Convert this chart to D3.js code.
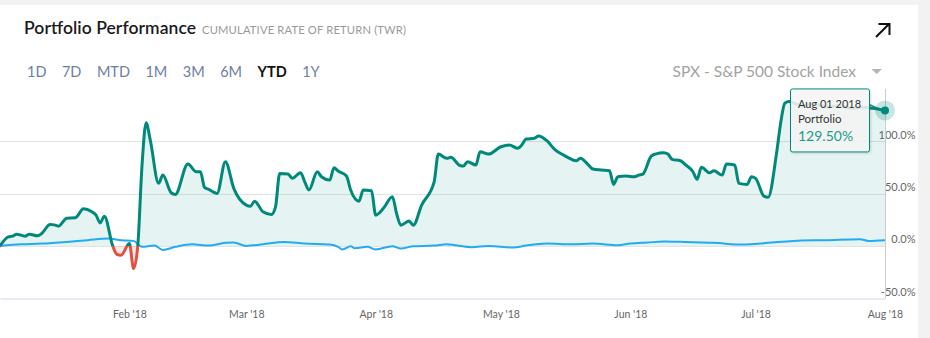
<!DOCTYPE html>
<html>
<head>
<meta charset="utf-8">
<script src="https://cdn.jsdelivr.net/npm/d3@7"></script>
<style>
  html, body { margin: 0; padding: 0; background: #f2f2f2; }
  svg { display: block; font-family: Lato, "Noto Sans", sans-serif; }
</style>
</head>
<body>
<svg id="chart" width="930" height="338"></svg>
<script>
// ---- chart data -------------------------------------------------------
const rangeButtons = ["1D", "7D", "MTD", "1M", "3M", "6M", "YTD", "1Y"];
const activeRange = "YTD";
const benchmarkName = "SPX - S&P 500 Stock Index";
const xTickDates = ["2018-02-01", "2018-03-01", "2018-04-01", "2018-05-01", "2018-06-01", "2018-07-01", "2018-08-01"];
const xTickLabels = ["Feb '18", "Mar '18", "Apr '18", "May '18", "Jun '18", "Jul '18", "Aug '18"];
const yTickValues = [-50, 0, 50, 100];
const yTickLabels = ["-50.0%", "0.0%", "50.0%", "100.0%"];

const portfolioDates = [
  "2018-01-01","2018-01-03","2018-01-04","2018-01-05","2018-01-07","2018-01-08","2018-01-10","2018-01-11",
  "2018-01-13","2018-01-14","2018-01-15","2018-01-17","2018-01-19","2018-01-21","2018-01-23","2018-01-24",
  "2018-01-25","2018-01-26","2018-01-28","2018-01-29","2018-01-30","2018-02-01","2018-02-02","2018-02-03",
  "2018-02-04","2018-02-05","2018-02-06","2018-02-08","2018-02-09","2018-02-11","2018-02-12","2018-02-15",
  "2018-02-17","2018-02-18","2018-02-19","2018-02-20","2018-02-22","2018-02-24","2018-02-26","2018-03-01",
  "2018-03-02","2018-03-03","2018-03-05","2018-03-07","2018-03-08","2018-03-09","2018-03-11","2018-03-12",
  "2018-03-14","2018-03-15","2018-03-16","2018-03-18","2018-03-19","2018-03-21","2018-03-22","2018-03-23",
  "2018-03-25","2018-03-26","2018-03-28","2018-03-29","2018-03-31","2018-04-01","2018-04-02","2018-04-03",
  "2018-04-05","2018-04-06","2018-04-07","2018-04-09","2018-04-10","2018-04-12","2018-04-15","2018-04-16",
  "2018-04-18","2018-04-19","2018-04-21","2018-04-22","2018-04-23","2018-04-25","2018-04-26","2018-04-28",
  "2018-05-01","2018-05-03","2018-05-05","2018-05-06","2018-05-07","2018-05-09","2018-05-10","2018-05-12",
  "2018-05-14","2018-05-16","2018-05-17","2018-05-19","2018-05-20","2018-05-22","2018-05-23","2018-05-25",
  "2018-05-27","2018-05-28","2018-05-29","2018-05-31","2018-06-02","2018-06-03","2018-06-04","2018-06-06",
  "2018-06-07","2018-06-09","2018-06-10","2018-06-11","2018-06-13","2018-06-14","2018-06-16","2018-06-17",
  "2018-06-18","2018-06-20","2018-06-21","2018-06-23","2018-06-24","2018-06-26","2018-06-27","2018-06-29",
  "2018-06-30","2018-07-01","2018-07-03","2018-07-04","2018-07-06","2018-07-07","2018-07-08","2018-07-09",
  "2018-07-12","2018-07-15","2018-07-18","2018-07-21","2018-07-24","2018-07-27","2018-07-29","2018-08-01"
];
const portfolioValues = [
  0, 8.6, 9.3, 11.2, 9.3, 11.2, 9.6, 11.9,
  20.5, 20.1, 18.9, 26.5, 26.8, 35.4, 32.6, 29.4,
  22.0, 28.4, 0, -8.0, -8.9, 2.2, -21.7, 0,
  75.7, 117.8, 101.2, 59.8, 67.7, 50.8, 49.2, 78.3,
  70.9, 70.9, 55.9, 54.0, 50.2, 80.5, 55.0, 39.0,
  38.0, 42.8, 32.6, 30.0, 37.4, 69.3, 68.7, 64.6,
  69.9, 61.3, 53.4, 70.9, 66.1, 62.9, 74.7, 71.6,
  66.8, 53.4, 42.8, 53.4, 52.7, 29.4, 32.0, 36.8,
  47.0, 31.0, 19.8, 23.7, 19.8, 39.0, 61.3, 87.8,
  83.7, 84.7, 77.3, 76.3, 80.5, 77.3, 90.0, 87.8,
  94.8, 96.5, 93.3, 96.5, 102.2, 102.9, 105.1, 100.6,
  91.7, 86.9, 84.7, 81.4, 83.7, 77.3, 73.5, 72.5,
  71.8, 58.8, 66.1, 66.8, 66.1, 67.7, 68.7, 85.9,
  87.8, 89.1, 87.8, 82.8, 81.4, 78.3, 70.9, 63.6,
  75.1, 69.9, 71.8, 67.7, 78.3, 77.3, 59.8, 58.8,
  66.1, 64.6, 47.6, 46.4, 88.0, 117.3, 136.4, 138.0,
  134.0, 135.5, 133.0, 134.0, 131.5, 132.5, 131.6, 129.5
];

const benchmarkDates = [
  "2018-01-01","2018-01-06","2018-01-11","2018-01-17","2018-01-22","2018-01-27","2018-01-30","2018-02-02",
  "2018-02-04","2018-02-07","2018-02-09","2018-02-12","2018-02-16","2018-02-20","2018-02-24","2018-02-26",
  "2018-03-01","2018-03-05","2018-03-10","2018-03-15","2018-03-21","2018-03-23","2018-03-24","2018-03-26",
  "2018-03-27","2018-03-30","2018-04-01","2018-04-05","2018-04-07","2018-04-10","2018-04-15","2018-04-18",
  "2018-04-20","2018-04-24","2018-04-28","2018-05-04","2018-05-07","2018-05-12","2018-05-18","2018-05-23",
  "2018-05-29","2018-06-01","2018-06-05","2018-06-09","2018-06-14","2018-06-21","2018-06-28","2018-07-04",
  "2018-07-10","2018-07-18","2018-07-26","2018-07-28","2018-08-01"
];
const benchmarkValues = [
  0, 1.6, 2.2, 3.8, 5.5, 7.0, 5.5, 4.8,
  -0.9, 0.3, -3.8, -0.9, 1.6, 0.3, 2.9, 3.2,
  0, 1.6, 3.8, 2.2, 1.3, -0.9, -3.4, -0.3,
  -2.2, -0.9, -3.4, -0.3, -2.5, -0.3, 0.3, 1.6,
  0.7, -1.2, 0, -1.6, 0.3, 2.2, 1.6, 2.2,
  0.7, 2.2, 3.2, 4.2, 3.8, 2.9, 1.3, 2.9,
  4.8, 5.5, 6.4, 4.8, 5.5
];

const tooltipDate = "Aug 01 2018";
const tooltipSeries = "Portfolio";

// ---- setup ------------------------------------------------------------
const parse = d3.timeParse("%Y-%m-%d");
const portfolio = portfolioDates.map((d, i) => ({ date: parse(d), value: portfolioValues[i] }));
const benchmark = benchmarkDates.map((d, i) => ({ date: parse(d), value: benchmarkValues[i] }));

const colors = {
  up: "#00897b",
  down: "#e0523f",
  bench: "#22aaf2",
  grid: "#e3e3e3",
  axis: "#ccd6eb",
  label: "#666666"
};

const svg = d3.select("#chart");
const W = 930, H = 338;
const plot = { left: 0, right: 885, top: 89, bottom: 298.2 };

const x = d3.scaleTime()
  .domain([parse("2018-01-01"), parse("2018-08-01")])
  .range([plot.left, plot.right]);
const y = d3.scaleLinear()
  .domain([-50, 150])
  .range([plot.bottom, plot.top]);

// card
svg.append("rect").attr("x", 0).attr("y", 5).attr("width", 918).attr("height", H - 5).attr("fill", "#ffffff");

// ---- header -----------------------------------------------------------
svg.append("text")
  .attr("x", 24).attr("y", 34)
  .attr("font-size", 17.5).attr("font-weight", 600).attr("fill", "#1a1a1a")
  .attr("textLength", 172).attr("lengthAdjust", "spacing")
  .text("Portfolio Performance");
svg.append("text")
  .attr("x", 202).attr("y", 34)
  .attr("font-size", 11.2).attr("fill", "#9a9a9a")
  .attr("textLength", 204).attr("lengthAdjust", "spacing")
  .text("CUMULATIVE RATE OF RETURN (TWR)");

// range selector
let bx = 27;
const btnG = svg.append("g").attr("class", "range-buttons");
rangeButtons.forEach(label => {
  const t = btnG.append("text")
    .attr("x", bx).attr("y", 76.5)
    .attr("font-size", 14.5)
    .attr("font-weight", label === activeRange ? 700 : 400)
    .attr("fill", label === activeRange ? "#111111" : "#6e7ea0")
    .text(label);
  bx += t.node().getComputedTextLength() + 15.5;
});

// benchmark selector
svg.append("text")
  .attr("x", 856).attr("y", 76.5).attr("text-anchor", "end")
  .attr("font-size", 15.5).attr("fill", "#a3a3a3")
  .text(benchmarkName);
svg.append("path")
  .attr("d", "M871.5,69 L882,69 L876.75,74 Z")
  .attr("fill", "#b5b5b5");

// expand icon
svg.append("path")
  .attr("d", "M876,37 L889,24 M878.5,24 L889.5,24 L889.5,35")
  .attr("fill", "none").attr("stroke", "#111").attr("stroke-width", 2);

// ---- gridlines & axes -------------------------------------------------
const gridG = svg.append("g");
gridG.selectAll("line")
  .data(yTickValues.filter(v => v > -50))
  .join("line")
  .attr("x1", plot.left).attr("x2", plot.right)
  .attr("y1", d => Math.round(y(d)) + 0.5).attr("y2", d => Math.round(y(d)) + 0.5)
  .attr("stroke", colors.grid).attr("stroke-width", 1);

const yAxis = d3.axisRight(y)
  .tickValues(yTickValues)
  .tickSize(0)
  .tickFormat((d, i) => yTickLabels[i]);
const yAxisG = svg.append("g").attr("transform", "translate(915.5,0)").call(yAxis);
yAxisG.select(".domain").remove();
yAxisG.selectAll("text")
  .attr("x", 0).attr("dy", -3)
  .attr("text-anchor", "end")
  .attr("fill", colors.label).attr("font-size", 11)
  .attr("font-family", "Lato, 'Noto Sans', sans-serif");

const xAxis = d3.axisBottom(x)
  .tickValues(xTickDates.map(parse))
  .tickSize(0)
  .tickFormat((d, i) => xTickLabels[i]);
const xAxisG = svg.append("g").attr("transform", `translate(0,${Math.round(plot.bottom) + 0.5})`).call(xAxis);
xAxisG.select(".domain").attr("stroke", colors.axis);
xAxisG.selectAll("text")
  .attr("y", 0).attr("dy", 19.5)
  .attr("fill", colors.label).attr("font-size", 10.5)
  .attr("font-family", "Lato, 'Noto Sans', sans-serif");

// ---- series -----------------------------------------------------------
const zeroY = y(0);
const defs = svg.append("defs");
defs.append("clipPath").attr("id", "clip-up")
  .append("rect").attr("x", plot.left).attr("y", 0).attr("width", plot.right - plot.left + 10).attr("height", zeroY);
defs.append("clipPath").attr("id", "clip-down")
  .append("rect").attr("x", plot.left).attr("y", zeroY).attr("width", plot.right - plot.left + 10).attr("height", H - zeroY);

const curve = d3.curveMonotoneX;
const area = d3.area().curve(curve)
  .x(d => x(d.date)).y0(zeroY).y1(d => y(d.value));
const line = d3.line().curve(curve)
  .x(d => x(d.date)).y(d => y(d.value));

svg.append("path").datum(portfolio)
  .attr("d", area).attr("clip-path", "url(#clip-up)")
  .attr("fill", colors.up).attr("fill-opacity", 0.1);
svg.append("path").datum(portfolio)
  .attr("d", area).attr("clip-path", "url(#clip-down)")
  .attr("fill", colors.down).attr("fill-opacity", 0.12);

// benchmark
svg.append("path").datum(benchmark)
  .attr("d", line)
  .attr("fill", "none").attr("stroke", colors.bench).attr("stroke-width", 2)
  .attr("stroke-linejoin", "round");

// portfolio, green above zero and red below
svg.append("path").datum(portfolio)
  .attr("d", line).attr("clip-path", "url(#clip-up)")
  .attr("fill", "none").attr("stroke", colors.up).attr("stroke-width", 3)
  .attr("stroke-linejoin", "round").attr("stroke-linecap", "round");
svg.append("path").datum(portfolio)
  .attr("d", line).attr("clip-path", "url(#clip-down)")
  .attr("fill", "none").attr("stroke", colors.down).attr("stroke-width", 3)
  .attr("stroke-linejoin", "round").attr("stroke-linecap", "round");

// ---- hover state on last point ----------------------------------------
const last = portfolio[portfolio.length - 1];
const mx = x(last.date), my = y(last.value);

svg.append("line")
  .attr("x1", Math.round(mx) + 0.5).attr("x2", Math.round(mx) + 0.5)
  .attr("y1", plot.top).attr("y2", plot.bottom)
  .attr("stroke", "#cccccc").attr("stroke-width", 1);

svg.append("circle").attr("cx", mx).attr("cy", my).attr("r", 10)
  .attr("fill", colors.up).attr("fill-opacity", 0.22);
svg.append("circle").attr("cx", mx).attr("cy", my).attr("r", 4)
  .attr("fill", colors.up);

// tooltip
const shadow = defs.append("filter").attr("id", "tip-shadow")
  .attr("x", "-20%").attr("y", "-20%").attr("width", "140%").attr("height", "140%");
shadow.append("feDropShadow").attr("dx", 1).attr("dy", 1).attr("stdDeviation", 1)
  .attr("flood-color", "#000").attr("flood-opacity", 0.15);

const tip = { x: mx - 95, y: my - 22, w: 79, h: 63 };
const tipG = svg.append("g");
tipG.append("path")
  .attr("d", `M${tip.x + tip.w},${my - 6} L${mx - 3},${my}`)
  .attr("stroke", colors.up).attr("stroke-width", 1.5).attr("fill", "none");
tipG.append("rect")
  .attr("x", tip.x + 0.5).attr("y", tip.y + 0.5)
  .attr("width", tip.w).attr("height", tip.h)
  .attr("rx", 2)
  .attr("fill", "#f7f7f7").attr("fill-opacity", 0.86)
  .attr("stroke", colors.up).attr("stroke-width", 1)
  .attr("filter", "url(#tip-shadow)");
tipG.append("text")
  .attr("x", tip.x + 8).attr("y", tip.y + 20)
  .attr("font-size", 11).attr("fill", "#333")
  .text(tooltipDate);
tipG.append("text")
  .attr("x", tip.x + 8).attr("y", tip.y + 35)
  .attr("font-size", 11.5).attr("fill", "#333")
  .text(tooltipSeries);
tipG.append("text")
  .attr("x", tip.x + 8).attr("y", tip.y + 53)
  .attr("font-size", 14).attr("fill", "#1c9a88")
  .text(d3.format(".2f")(last.value) + "%");
</script>
</body>
</html>
